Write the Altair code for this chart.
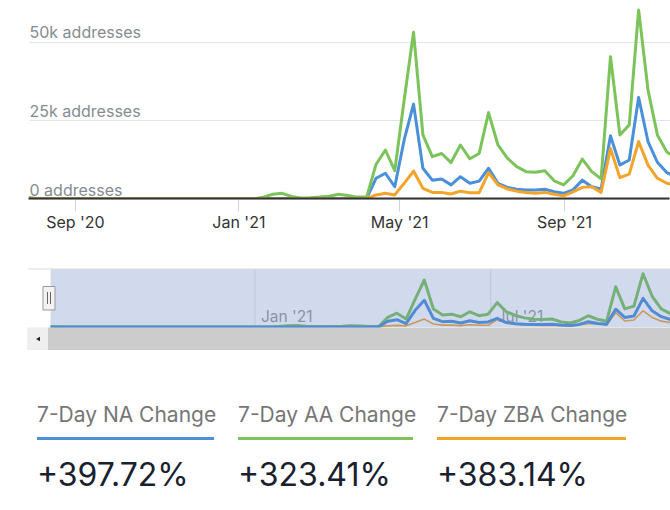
import altair as alt
import pandas as pd

# ---------------- data ----------------
start_date = "2020-07-28"
n_weeks = 70

na_values = [0, 0, 0, 0, 0, 0, 0, 0, 0, 0,
             0, 0, 0, 0, 0, 0, 0, 0, 0, 0,
             0, 0, 0, 0, 0, 100, 100, 100, 100, 100,
             100, 100, 100, 100, 100, 100, 200,
             6600, 8200, 3900, 18800, 30200, 9800, 6000, 6400, 4500, 7100,
             5000, 5700, 9800, 5000, 3700, 3100, 2900, 2900, 3100, 2300,
             1800, 2900, 6000, 3900, 3200, 20100, 10800, 12400, 32300, 18300,
             11700, 8400, 7000]
aa_values = [500, 100, 0, 0, 0, 0, 0, 0, 0, 0,
             0, 0, 0, 0, 0, 0, 0, 0, 0, 0,
             0, 0, 0, 0, 100, 600, 1500, 1800, 800, 300,
             400, 600, 900, 1500, 1100, 600, 600,
             11000, 15600, 9000, 31500, 53100, 20400, 13500, 14500, 11600, 17200,
             12800, 14500, 27500, 17200, 13000, 10300, 8700, 8500, 9000, 5800,
             4500, 7400, 12700, 8700, 6400, 45300, 20400, 23600, 60200, 34700,
             20400, 15000, 13000]
zba_values = [0, 0, 0, 0, 0, 0, 0, 0, 0, 0,
              0, 0, 0, 0, 0, 0, 0, 0, 0, 0,
              0, 0, 0, 0, 0, 0, 0, 0, 0, 0,
              0, 0, 0, 0, 0, 0, 100,
              1300, 1800, 1300, 5000, 8900, 3400, 2100, 2100, 1600, 2500,
              2000, 2000, 8400, 4500, 3200, 2500, 2100, 1800, 2100, 1500,
              1000, 2300, 3700, 3900, 2100, 16100, 6800, 7900, 18300, 10800,
              6600, 5000, 4300]

series_names = ["NA", "AA", "ZBA"]
series_colors = ["#4a8fd9", "#7cc35a", "#f3a42b"]
nav_order = ["ZBA", "AA", "NA"]
nav_widths = [1.6, 3, 3]

main_tick_dates = ["2020-09-01", "2021-01-01", "2021-05-01", "2021-09-01"]
nav_tick_dates = ["2021-01-01", "2021-07-01"]
y_ticks = [0, 25000, 50000]

stat_labels = ["7-Day NA Change", "7-Day AA Change", "7-Day ZBA Change"]
stat_values = ["+397.72%", "+323.41%", "+383.14%"]

# ---------------- tables ----------------
dates = pd.date_range(start_date, periods=n_weeks, freq="7D")
df = pd.DataFrame({
    "date": list(dates) * 3,
    "series": [s for s in series_names for _ in range(n_weeks)],
    "value": na_values + aa_values + zba_values,
})
nav_ticks_df = pd.DataFrame({"date": pd.to_datetime(nav_tick_dates)})
mask_df = pd.DataFrame({"start": [dates[0]], "end": [dates[-1]]})
one = pd.DataFrame({"a": [0]})


def dt(s, hours=0):
    y, m, d = (int(p) for p in s.split("-"))
    return alt.DateTime(year=y, month=m, date=d, hours=hours)


FONT = "Inter"

# ---------------- main chart ----------------
main_x = alt.X(
    "date:T",
    scale=alt.Scale(domain=[dt(start_date), dt("2021-11-18", 10)]),
    axis=alt.Axis(
        orient="bottom", values=[dt(d) for d in main_tick_dates], format="%b '%y",
        title=None, grid=False, domain=True, domainColor="#333333", domainWidth=2,
        translate=-0.5,
        ticks=True, tickSize=13, tickColor="#ccd6eb", tickWidth=1,
        labelPadding=16, labelBaseline="alphabetic", labelAlign="center",
        labelFontSize=16, labelColor="#333333", labelFont=FONT, labelFlush=False,
        labelOverlap=False, zindex=1,
    ),
)
main_y = alt.Y(
    "value:Q",
    scale=alt.Scale(domain=[0, 62400], nice=False),
    axis=alt.Axis(
        orient="left", values=y_ticks, title=None, domain=False, ticks=False, tickSize=0,
        labelAlign="left", labelBaseline="alphabetic", labelPadding=0, labelOffset=-4,
        labelExpr="datum.value == 0 ? '0 addresses' : (datum.value / 1000) + 'k addresses'",
        labelColor="#868b92", labelFontSize=16, labelFont=FONT, labelFlush=False,
        grid=True, gridColor="#e6e6e6", gridWidth=1, zindex=0,
    ),
)
color = alt.Color("series:N", scale=alt.Scale(domain=series_names, range=series_colors), legend=None)

main_layers = [
    alt.Chart(df).transform_filter(alt.datum.series == s)
    .mark_line(strokeWidth=3, strokeJoin="round", strokeCap="round", clip=True)
    .encode(x=main_x, y=main_y, color=color)
    for s in series_names
]
main = alt.layer(*main_layers)

# ---------------- navigator ----------------
nav_sx = alt.Scale(domain=[dt(start_date), dt("2021-11-15", 17)], range=[21.6, 641])
nav_sy = alt.Scale(domain=[0, 65500], range=[324, 266], nice=False)

nav_grid = alt.Chart(nav_ticks_df).mark_rule(color="#e6e6e6", strokeWidth=1).encode(
    x=alt.X("date:T", scale=nav_sx, axis=None), y=alt.value(266), y2=alt.value(324))
nav_labels = alt.Chart(nav_ticks_df).mark_text(
    align="left", baseline="alphabetic", dx=6, font=FONT, fontSize=15.5, color="#999999"
).encode(x=alt.X("date:T", scale=nav_sx, axis=None), y=alt.value(319.3),
         text=alt.Text("date:T", format="%b '%y"))
nav_lines = [
    alt.Chart(df).transform_filter(alt.datum.series == s)
    .mark_line(strokeWidth=w, strokeJoin="round")
    .encode(x=alt.X("date:T", scale=nav_sx, axis=None),
            y=alt.Y("value:Q", scale=nav_sy, axis=None), color=color)
    for s, w in zip(nav_order, nav_widths)
]
nav_mask = alt.Chart(mask_df).mark_rect(color="#6685c2", opacity=0.3).encode(
    x=alt.X("start:T", scale=nav_sx, axis=None), x2="end:T",
    y=alt.value(266), y2=alt.value(324))
nav_border = alt.Chart(one).mark_rule(color="#d9d9d9", strokeWidth=1).encode(
    x=alt.value(-1), x2=alt.value(641), y=alt.value(266))
handle = alt.Chart(one).mark_rect(fill="#f2f2f2", stroke="#999999", strokeWidth=1).encode(
    x=alt.value(14), x2=alt.value(26), y=alt.value(283.5), y2=alt.value(307))
handle_l1 = alt.Chart(one).mark_rule(color="#666666", strokeWidth=1).encode(
    x=alt.value(18.5), y=alt.value(289), y2=alt.value(301))
handle_l2 = alt.Chart(one).mark_rule(color="#666666", strokeWidth=1).encode(
    x=alt.value(21.5), y=alt.value(289), y2=alt.value(301))
track = alt.Chart(one).mark_rect(fill="#cccccc").encode(
    x=alt.value(19), x2=alt.value(641), y=alt.value(324.5), y2=alt.value(347))
button = alt.Chart(one).mark_rect(fill="#efefef").encode(
    x=alt.value(-2), x2=alt.value(19), y=alt.value(324.5), y2=alt.value(347))
arrow = alt.Chart(one).mark_point(shape="triangle-left", filled=True, color="#222222",
                                  size=22, opacity=1).encode(x=alt.value(9), y=alt.value(336))

nav = alt.layer(nav_grid, nav_labels, *nav_lines, nav_mask, nav_border,
                track, button, arrow, handle, handle_l1, handle_l2)

# ---------------- stats ----------------
col_x = [8, 209, 408]
bar_w = [177, 175, 189]
stats = []
for lab, val, col, x0, w in zip(stat_labels, stat_values, series_colors, col_x, bar_w):
    row = pd.DataFrame({"label": [lab], "val": [val]})
    stats.append(alt.Chart(row).mark_text(
        align="left", baseline="alphabetic", font=FONT, fontSize=21, color="#767676"
    ).encode(x=alt.value(x0), y=alt.value(419.3), text="label:N"))
    stats.append(alt.Chart(row).mark_rule(color=col, strokeWidth=3).encode(
        x=alt.value(x0), x2=alt.value(x0 + w), y=alt.value(435.5)))
    stats.append(alt.Chart(row).mark_text(
        align="left", baseline="alphabetic", font=FONT, fontSize=32, color="#18212d"
    ).encode(x=alt.value(x0), y=alt.value(482.7), text="val:N"))

chart = (
    alt.layer(main, nav, *stats)
    .resolve_scale(x="independent", y="independent")
    .properties(
        width=641, height=196,
        padding={"left": 29, "top": 3, "right": 0, "bottom": 311},
        autosize=alt.AutoSizeParams(type="none"),
        background="white",
    )
    .configure_view(stroke=None)
)

chart.save("out.html", embed_options={"renderer": "svg", "actions": False})
